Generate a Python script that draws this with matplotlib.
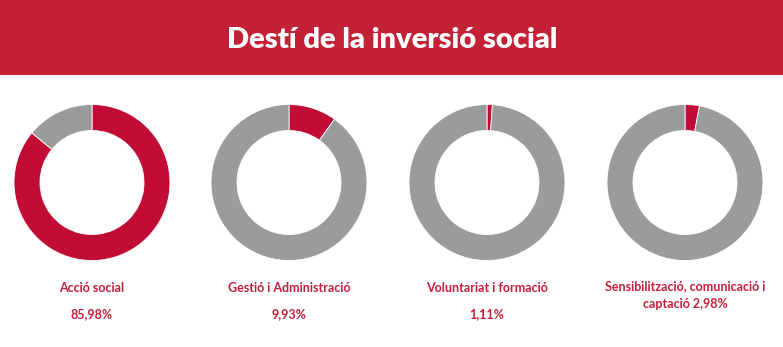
import matplotlib
matplotlib.use("Agg")
import matplotlib.pyplot as plt
from matplotlib.patches import Rectangle

title = "Destí de la inversió social"
categories = ["Acció social", "Gestió i Administració", "Voluntariat i formació",
              "Sensibilització, comunicació i\ncaptació 2,98%"]
values = [85.98, 9.93, 1.11, 2.98]
value_labels = ["85,98%", "9,93%", "1,11%", ""]

RED = "#C10C36"
GREY = "#9B9B9B"
HEAD = "#C32236"
TEXT = "#C41F3B"

W, H = 783, 347
fig = plt.figure(figsize=(W / 100, H / 100), dpi=100)
ax = fig.add_axes([0, 0, 1, 1])

# header band
ax.add_patch(Rectangle((0, H - 75), W, 75, color=HEAD, lw=0))
ax.text(W / 2 + 1, H - 40, title, ha="center", va="center", color="white",
        fontsize=21, fontweight="heavy", family="Lato")

centers = [92, 289, 487, 685]
for cx, cat, v, vl in zip(centers, categories, values, value_labels):
    ax.pie([v, 100 - v], colors=[RED, GREY], startangle=90, counterclock=False,
           center=(cx, H - 182.5), radius=78, frame=True,
           wedgeprops=dict(width=26, edgecolor="white", linewidth=0.6))
    if vl:
        ax.text(cx, H - 288, cat, ha="center", va="center", color=TEXT,
                fontsize=9, fontweight="bold", family="Lato")
        ax.text(cx, H - 314, vl, ha="center", va="center", color=TEXT,
                fontsize=9, fontweight="bold", family="Lato")
    else:
        ax.text(cx, H - 295, cat, ha="center", va="center", color=TEXT,
                fontsize=9, fontweight="bold", family="Lato", linespacing=1.5)

ax.set_xlim(0, W)
ax.set_ylim(0, H)
ax.set_aspect("auto")
ax.axis("off")
fig.savefig("out.png", dpi=100)
